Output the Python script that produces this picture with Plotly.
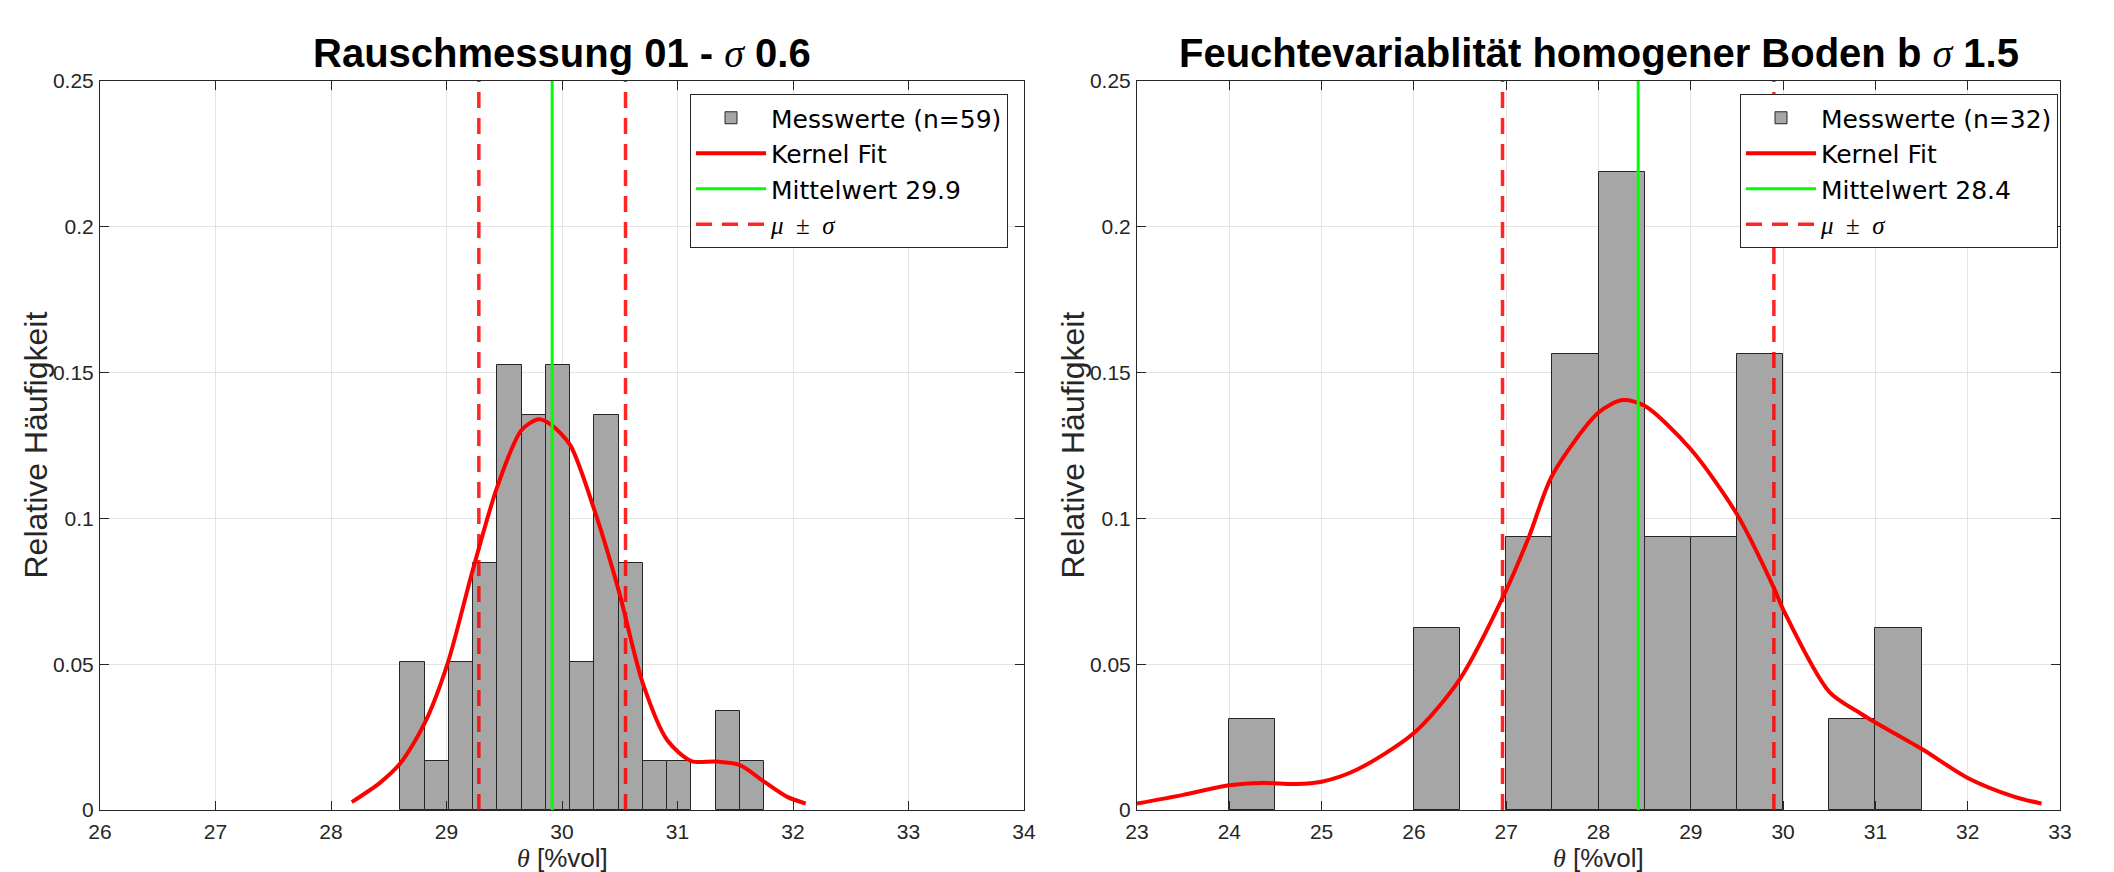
import plotly.graph_objects as go

# ---------------- data ----------------
# left panel: Rauschmessung 01
left_bin_start = 28.60
left_bin_width = 0.21
left_counts = [3, 1, 3, 5, 9, 8, 9, 3, 8, 5, 1, 1, 0, 2, 1]
left_n = 59
left_mean = 29.915
left_sigma = 0.635
left_kde_x = [28.18, 28.42, 28.60, 28.81, 29.01, 29.22, 29.44, 29.65, 29.80, 29.91,
              30.07, 30.28, 30.49, 30.70, 30.91, 31.12, 31.33, 31.54, 31.75, 31.95, 32.11]
left_kde_y = [0.0027, 0.0092, 0.0160, 0.0297, 0.0503, 0.0812, 0.1109, 0.1303, 0.1340, 0.1320,
              0.1252, 0.1029, 0.0754, 0.0434, 0.0240, 0.0168, 0.0166, 0.0154, 0.0097, 0.0045, 0.0022]

# right panel: Feuchtevariablität homogener Boden b
right_bin_start = 24.0
right_bin_width = 0.5
right_counts = [1, 0, 0, 0, 2, 0, 3, 5, 7, 3, 3, 5, 0, 1, 2]
right_n = 32
right_mean = 28.43
right_sigma = 1.47
right_kde_x = [23.0, 23.5, 24.0, 24.35, 24.72, 25.0, 25.38, 26.0, 26.5, 27.0, 27.25, 27.5,
               28.0, 28.26, 28.5, 29.0, 29.5, 29.9, 30.0, 30.5, 30.84, 31.0, 31.5, 32.0, 32.5, 32.8]
right_kde_y = [0.0022, 0.0052, 0.0085, 0.0093, 0.0089, 0.0097, 0.0138, 0.0264, 0.0450, 0.0754, 0.0940, 0.1148,
               0.1363, 0.1406, 0.1386, 0.1237, 0.1014, 0.0762, 0.0688, 0.0405, 0.0331, 0.0300, 0.0210, 0.0110, 0.0046, 0.0022]

y_tickvals = [0, 0.05, 0.1, 0.15, 0.2, 0.25]
y_ticktext = ["0", "0.05", "0.1", "0.15", "0.2", "0.25"]
left_xticks = list(range(26, 35))
right_xticks = list(range(23, 34))

titles = ["Rauschmessung 01 - ", "Feuchtevariablität homogener Boden b "]
title_sigmas = ["0.6", "1.5"]

# ---------------- figure ----------------
# the page body has an 8px margin, so the figure is made 8px smaller and
# all screen positions below are converted to figure coordinates.
OFF = 8
W, H = 2114 - OFF, 872 - OFF
FONT = "Liberation Sans, Arial, Helvetica, sans-serif"
LEGFONT = "DejaVu Sans, Liberation Sans, sans-serif"
SERIF = "'Liberation Serif', 'Times New Roman', serif"
BAR_COLOR = "#a6a6a6"
EDGE = "#262626"

fig = go.Figure()


def add_panel(idx, start, width, counts, n, mean, sigma, kx, ky):
    xa = "x" if idx == 1 else "x2"
    ya = "y" if idx == 1 else "y2"
    leg = "legend" if idx == 1 else "legend2"
    centers = [start + width * (i + 0.5) for i in range(len(counts))]
    heights = [c / n if c > 0 else None for c in counts]
    fig.add_trace(go.Bar(
        x=centers, y=heights, width=[width] * len(counts),
        marker=dict(color=BAR_COLOR, line=dict(color=EDGE, width=1)),
        name=f"Messwerte (n={n})", xaxis=xa, yaxis=ya, legend=leg,
        legendgroup=f"a{idx}", showlegend=True))
    fig.add_trace(go.Scatter(
        x=kx, y=ky, mode="lines", line=dict(color="#ff0000", width=4, shape="spline", smoothing=0.8),
        name="Kernel Fit", xaxis=xa, yaxis=ya, legend=leg, legendgroup=f"b{idx}"))
    fig.add_trace(go.Scatter(
        x=[mean, mean], y=[0, 0.25], mode="lines", line=dict(color="#00ff00", width=3),
        name=f"Mittelwert {mean:.1f}", xaxis=xa, yaxis=ya, legend=leg, legendgroup=f"c{idx}"))
    fig.add_trace(go.Scatter(
        x=[mean - sigma, mean - sigma, None, mean + sigma, mean + sigma],
        y=[0, 0.25, None, 0, 0.25], mode="lines",
        line=dict(color="rgba(255,0,0,0.85)", width=3.5, dash="16px,10px"),
        name=f"<span style=\"font-family:{SERIF};font-style:italic\">μ</span>"
             f"<span style=\"font-family:{SERIF}\">  ±  </span>"
             f"<span style=\"font-family:{SERIF};font-style:italic\">σ</span>",
        xaxis=xa, yaxis=ya, legend=leg, legendgroup=f"d{idx}"))


add_panel(1, left_bin_start, left_bin_width, left_counts, left_n, left_mean, left_sigma, left_kde_x, left_kde_y)
add_panel(2, right_bin_start, right_bin_width, right_counts, right_n, right_mean, right_sigma, right_kde_x, right_kde_y)

# axes geometry in screen pixels
L1, R1 = 100, 1024
L2, R2 = 1137, 2060
TOP, BOT = 81, 810


def px(v):
    return (v - OFF) / W


def py(v):
    return 1 - (v - OFF) / H


axis_common = dict(
    showline=True, linecolor=EDGE, linewidth=1, mirror="ticks",
    ticks="inside", ticklen=9, tickcolor=EDGE, tickwidth=1,
    showgrid=True, gridcolor="#e3e3e3", gridwidth=1, zeroline=False,
    automargin=False,
    tickfont=dict(family=FONT, size=21, color="#262626"),
)

legend_common = dict(
    yanchor="top", xanchor="right", bgcolor="white", bordercolor="#262626", borderwidth=1,
    font=dict(family=LEGFONT, size=25, color="#000"), itemwidth=70,
    tracegroupgap=0, traceorder="grouped",
)

fig.update_layout(
    width=W, height=H, margin=dict(l=0, r=0, t=0, b=0, autoexpand=False),
    paper_bgcolor="white", plot_bgcolor="white",
    barmode="overlay", bargap=0,
    font=dict(family=FONT, color="#000000"),
    xaxis=dict(domain=[px(L1), px(R1)], range=[26, 34], tickvals=left_xticks, anchor="y",
               ticklabelstandoff=3, **axis_common),
    yaxis=dict(domain=[py(BOT), py(TOP)], range=[0, 0.25], tickvals=y_tickvals, ticktext=y_ticktext,
               anchor="x", ticklabelstandoff=1, **axis_common),
    xaxis2=dict(domain=[px(L2), px(R2)], range=[23, 33], tickvals=right_xticks, anchor="y2",
                ticklabelstandoff=3, **axis_common),
    yaxis2=dict(domain=[py(BOT), py(TOP)], range=[0, 0.25], tickvals=y_tickvals, ticktext=y_ticktext,
                anchor="x2", ticklabelstandoff=1, **axis_common),
    legend=dict(x=px(R1 - 16), y=py(94), **legend_common),
    legend2=dict(x=px(R2 - 2), y=py(94), **legend_common),
)

annotations = []
for i, (L, R) in enumerate([(L1, R1), (L2, R2)]):
    cx = px((L + R) / 2)
    annotations.append(dict(
        text=f"<b>{titles[i]}</b><span style=\"font-family:{SERIF};font-style:italic\">σ</span><b> {title_sigmas[i]}</b>",
        x=cx, y=py(54), xref="paper", yref="paper", xanchor="center", yanchor="middle",
        showarrow=False, font=dict(family=FONT, size=40, color="#000")))
    annotations.append(dict(
        text=f"<span style=\"font-family:{SERIF};font-style:italic\">θ</span> [%vol]",
        x=cx, y=0, xref="paper", yref="paper", xanchor="center", yanchor="bottom", yshift=-3,
        showarrow=False, font=dict(family=FONT, size=26, color="#262626")))
    annotations.append(dict(
        text="Relative Häufigkeit", textangle=-90,
        x=px(L - 64), y=py((TOP + BOT) / 2), xref="paper", yref="paper",
        xanchor="center", yanchor="middle",
        showarrow=False, font=dict(family=FONT, size=32, color="#262626")))
fig.update_layout(annotations=annotations)

fig.write_html("out.html")
